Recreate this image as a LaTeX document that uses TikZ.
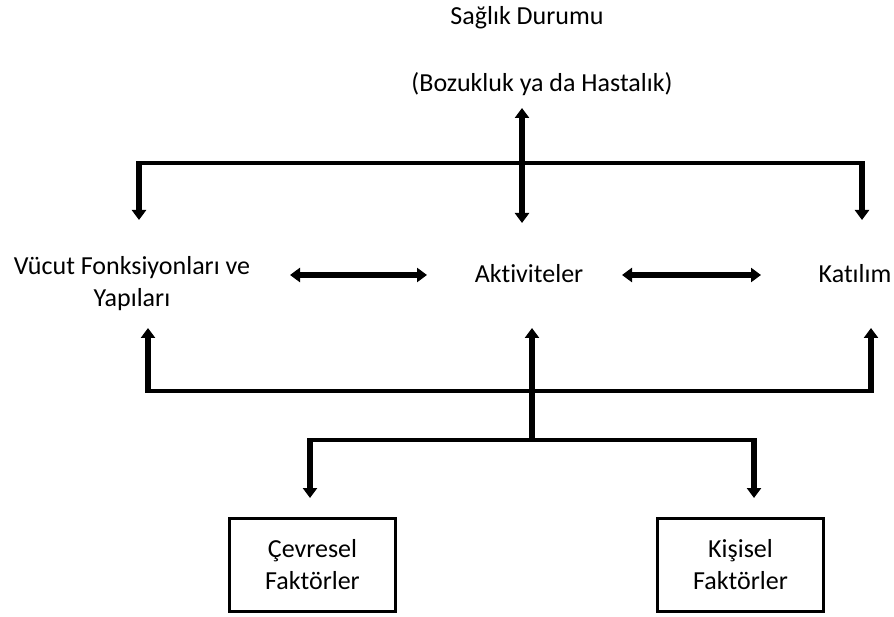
\documentclass[tikz,border=0pt]{standalone}
\usepackage{fontspec}
\setmainfont[Ligatures=NoCommon]{Carlito}
\usetikzlibrary{arrows.meta}
\begin{document}
\begin{tikzpicture}[x=1pt,y=-1pt,
  lbl/.style={inner sep=0pt, font=\fontsize{26}{32}\selectfont},
  bar/.style={line width=3.5pt},
  arr/.style={line width=6pt, shorten <=-1.75pt, -{Triangle[length=10pt,width=14pt]}},
  darr/.style={line width=6pt, {Triangle[length=10pt,width=14pt]}-{Triangle[length=10pt,width=14pt]}},
  factor/.style={draw, line width=3pt, inner sep=0pt, minimum width=166pt, minimum height=93pt,
    align=center, font=\fontsize{26}{32}\selectfont}]
\useasboundingbox (0,0) rectangle (894,617);

% texts
\node[lbl, anchor=base] (hs) at (527,25) {Sağlık Durumu};
\node[lbl, anchor=base] (dis) at (542,92) {(Bozukluk ya da Hastalık)};
\node[lbl, anchor=base, align=center] (bf) at (132,307) {Vücut Fonksiyonları ve\\Yapıları};
\node[lbl, anchor=base] (act) at (529,283) {Aktiviteler};
\node[lbl, anchor=base] (par) at (855,283) {Katılım};
\node[factor] (env) at (312.5,565) {Çevresel\\Faktörler};
\node[factor] (pers) at (740.5,565) {Kişisel\\Faktörler};

% junction points
\coordinate (dtop) at (522,108);
\coordinate (dbot) at (522,223);
\coordinate (tl) at (139,163);
\coordinate (tr) at (862,163);
\coordinate (tlend) at (139,220);
\coordinate (trend) at (862,220);
\coordinate (bfr) at (290,275);
\coordinate (actl) at (427,275);
\coordinate (actr) at (622,275);
\coordinate (parl) at (761,275);
\coordinate (bl) at (148,391);
\coordinate (br) at (871,391);
\coordinate (blend) at (148,328);
\coordinate (brend) at (871,328);
\coordinate (mid) at (532,440);
\coordinate (midend) at (532,328);
\coordinate (ll) at (310,440);
\coordinate (lr) at (754,440);
\coordinate (llend) at (310,498);
\coordinate (lrend) at (754,498);

% top branch
\draw[bar] (tl) -- (tr);
\draw[arr] (tl) -- (tlend);
\draw[arr] (tr) -- (trend);
\draw[darr] (dtop) -- (dbot);

% middle row
\draw[darr] (bfr) -- (actl);
\draw[darr] (actr) -- (parl);

% lower branch
\draw[bar] (bl) -- (br);
\draw[arr, shorten <=0pt] (mid) -- (midend);
\draw[arr] (bl) -- (blend);
\draw[arr] (br) -- (brend);
\draw[bar] (ll) -- (lr);
\draw[arr] (ll) -- (llend);
\draw[arr] (lr) -- (lrend);
\end{tikzpicture}
\end{document}
